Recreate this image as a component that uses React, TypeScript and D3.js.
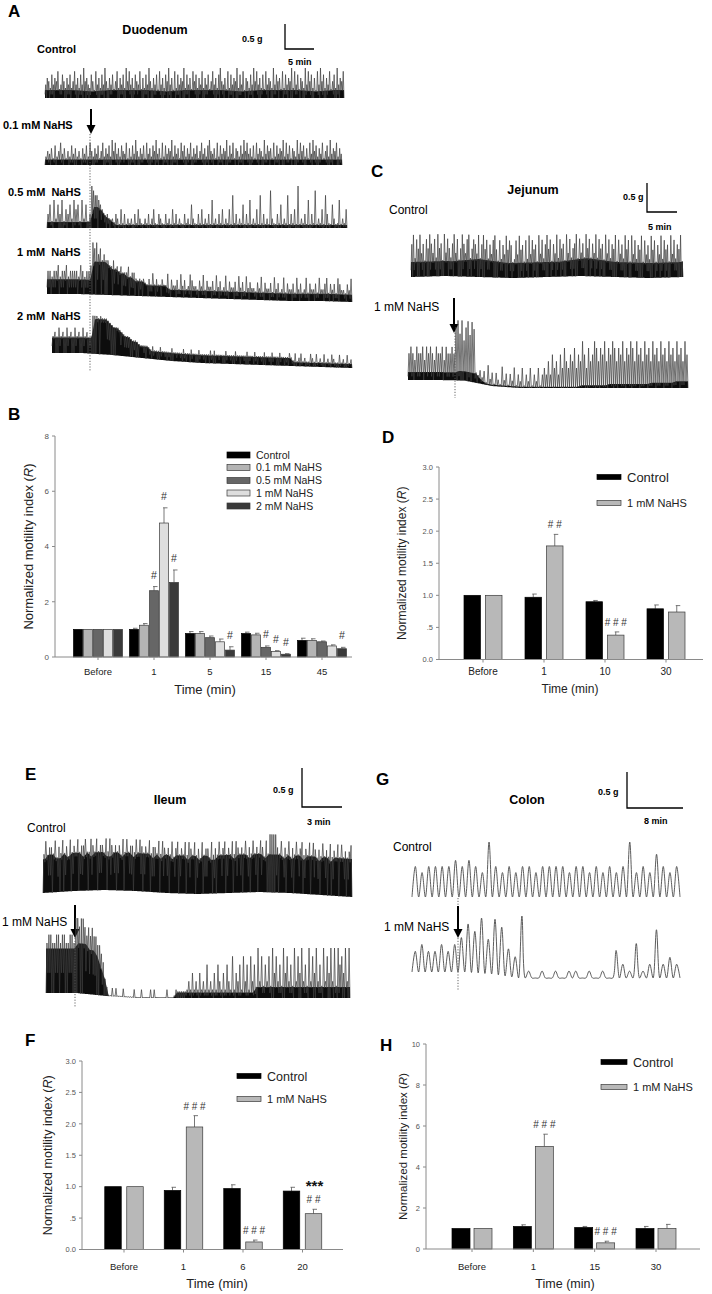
import React from "react";
import * as d3 from "d3";

const FONT = "'Liberation Sans', Arial, Helvetica, sans-serif";

// ---------------- Bar chart data ----------------
// B: Duodenum
const duoCats = ["Before", "1", "5", "15", "45"];
const duoNames = ["Control", "0.1 mM NaHS", "0.5 mM NaHS", "1 mM NaHS", "2 mM NaHS"];
const duoFills = ["#000000", "#b4b4b4", "#666666", "#dedede", "#3a3a3a"];
const duoControl = [1, 1.0, 0.85, 0.85, 0.6];
const duoControlErr = [0, 0.04, 0.07, 0.05, 0.08];
const duo01 = [1, 1.15, 0.85, 0.8, 0.6];
const duo01Err = [0, 0.06, 0.07, 0.06, 0.06];
const duo05 = [1, 2.4, 0.7, 0.35, 0.55];
const duo05Err = [0, 0.15, 0.06, 0.05, 0.03];
const duo1 = [1, 4.85, 0.55, 0.2, 0.4];
const duo1Err = [0, 0.55, 0.1, 0.03, 0.04];
const duo2 = [1, 2.7, 0.25, 0.1, 0.3];
const duo2Err = [0, 0.45, 0.12, 0.02, 0.05];
const duo05Marks = ["", "#", "", "#", ""];
const duo1Marks = ["", "#", "", "#", ""];
const duo2Marks = ["", "#", "#", "#", "#"];
const duoTicks = [0, 2, 4, 6, 8];

// D: Jejunum
const jejCats = ["Before", "1", "10", "30"];
const jejControl = [1, 0.97, 0.9, 0.79];
const jejControlErr = [0, 0.05, 0.02, 0.06];
const jejNahs = [1, 1.77, 0.38, 0.74];
const jejNahsErr = [0, 0.18, 0.05, 0.1];
const jejMarks = ["", "# #", "# # #", ""];
const halfTicks = [0, 0.5, 1, 1.5, 2, 2.5, 3];

// F: Ileum
const ilCats = ["Before", "1", "6", "20"];
const ilControl = [1, 0.94, 0.97, 0.93];
const ilControlErr = [0, 0.05, 0.06, 0.06];
const ilNahs = [1, 1.95, 0.12, 0.57];
const ilNahsErr = [0, 0.18, 0.03, 0.07];
const ilMarks = ["", "# # #", "# # #", "# #"];
const ilStars = ["", "", "", "***"];

// H: Colon
const colCats = ["Before", "1", "15", "30"];
const colControl = [1, 1.1, 1.05, 1.0];
const colControlErr = [0, 0.08, 0.05, 0.1];
const colNahs = [1, 5.0, 0.3, 1.0];
const colNahsErr = [0, 0.6, 0.08, 0.2];
const colMarks = ["", "# # #", "# # #", ""];
const colTicks = [0, 2, 4, 6, 8, 10];

// ---------------- Recording traces (relative spike heights 0-9) ----------------
const duoCtrlTrace = {
  pre:
    "4653746582475364735846374956437528463749536472583647395846375482637495364728463759462837465937462857364" +
    "8364725846379546283746593748265374958463728465394756283746593847265394857362849573648257394658",
  post: "",
  band: "6656665666566656",
  drift: [0, 0, 0],
};
const duo01Trace = {
  pre: "3546273584625374635264738",
  post:
    "5364725836473958463754826374953647284637594628374659374628573648364725846379546283746593748265374958" +
    "463728465394756283746593847265394857362849573648257394658364",
  band: "5555555555",
  drift: [0, 0, 0],
};
const duo05Trace = {
  pre: "3516253604352645162503",
  post:
    "9877654" +
    "2131021320413021203142102130241032103120413021" +
    "0312052103140213061203140214071302150316021407" +
    "1302082103150217031409021306031802140731052016" + "0214",
  band: "222222222222776432" + "11111111111111111111111111111111111111111111111111111111111111",
  drift: [0, 0, 0],
};
const duo1Trace = {
  pre: "4434453445344443543445",
  post:
    "98978676" + "6556454534453443" +
    "2313223142312322413223142312432213241322314231241322314231423221324132231423124132231423124132231422341323143221324",
  band: "444444444444999987766554443333332222222222222222222222222222222222222222222222222",
  drift: [0, 0, 1, 2, 3, 4, 5, 6, 7, 7, 8],
};
const duo2Trace = {
  pre: "45364536453645364534",
  post:
    "99989888776665545444334332" +
    "2102131203121013021213102312031210231302120312103120213012310213021312031201321302312013203121302132103120312",
  band: "44444444444999987765544333222222222222222222222222222222222222221111111111111111",
  drift: [0, 0, 2, 5, 8, 10, 11, 12, 13, 14, 15],
};
const jejCtrlTrace = {
  pre: "79486957386975849673958647958369758946875937968475896384759687348596738495867395847968375948673958467938574968375948673958476938574968395847693857496837594867395847693",
  post: "",
  band: "5565556555",
  drift: [0, -1, 0, 1, 0, -1, 0, 1, 0],
};
const jejNahsTrace = {
  pre: "454354453545435445354454",
  post:
    "8979689798" + "1021203120210312021302130213021302" +
    "324253425364354635475364576465746576465746576475647564756475647564756475",
  band: "66666666666666777777421111111111111111111111111112222222233333333333344444445555",
  drift: [0, 0, 0.5, 6, 8, 8, 8, 8, 8, 8, 8],
};
const ilCtrlTrace = {
  pre:
    "6857768576867586758677856875867758687576" + "7586857768587675867758687576857867586875" +
    "8675867758676857867586875768576857687586" + "9999" + "7685768576857867586875768576867586857678",
  post: "",
  band: "89988989998989998899899899998989989998998998899998999899989999898998999899899999",
  drift: [0, -2, -3, -2, 0, 1, 0, -1, 0, 2, 4],
};
const ilNahsTrace = {
  pre: "677667767766776",
  post:
    "99899" + "87878776654" + "000010100010000010001000010100000010000100000" +
    "121312131214121314213142151324152415241625142516352416352416253624162536241625362616453626",
  band: "88888888999887530000000000000000001111111111111111111112222222222222222222222222",
  drift: [0, 0, 3, 5, 5, 5, 5, 5, 5, 5, 5],
};
const colCtrlWaves = {
  pre: "5455556565495454554555545545454594547545",
  post: "",
  band: "0",
  drift: [0, 0],
};
const colNahsWaves = {
  pre: "3433434",
  post: "576858743910101011010104215127232",
  band: "0",
  drift: [0, 0, 0, 2, 6, 6, 6, 6, 6, 6, 6],
};

// ---------------- Components ----------------
type TraceSpec = { pre: string; post: string; band: string; drift: number[] };

function digits(s: string) {
  return Array.from(s).map((c) => parseInt(c, 10));
}

function Trace(props: {
  spec: TraceSpec; x0: number; xd?: number; x1: number; base: number; ampPx: number; bandPx: number;
  smooth?: boolean; stroke?: string; sw?: number;
}) {
  const { spec, x0, x1, base, ampPx, bandPx, smooth = false, stroke = "#3c3c3c", sw = 0.7 } = props;
  const pre = digits(spec.pre);
  const post = digits(spec.post);
  const xd = post.length ? (props.xd as number) : x1;
  const xPre = d3.scaleLinear().domain([0, pre.length]).range([x0, xd]);
  const xPost = d3.scaleLinear().domain([0, Math.max(1, post.length)]).range([xd, x1]);
  const frac = (x: number) => (x - x0) / (x1 - x0);
  const dr = d3.scaleLinear<number>()
    .domain(spec.drift.map((_, i) => i / (spec.drift.length - 1)))
    .range(spec.drift).clamp(true);
  const bands = digits(spec.band);
  const bs = d3.scaleLinear<number>()
    .domain(bands.map((_, k) => (k + 0.5) / bands.length))
    .range(bands).clamp(true);
  const baseAt = (x: number) => base + dr(frac(x));
  const bandAt = (x: number) => (bs(frac(x)) / 9) * bandPx;
  const amp = d3.scaleLinear().domain([0, 9]).range([0, ampPx]);

  const cells: { a: number; b: number; v: number }[] = [];
  pre.forEach((v, i) => cells.push({ a: xPre(i), b: xPre(i + 1), v }));
  post.forEach((v, i) => cells.push({ a: xPost(i), b: xPost(i + 1), v }));

  const pts: [number, number][] = [];
  cells.forEach((c) => {
    const xa = c.a;
    const xb = (c.a + c.b) / 2;
    if (smooth) {
      pts.push([xa, baseAt(xa)]);
      pts.push([xb, baseAt(xb) - amp(c.v)]);
    } else {
      const lowFrac = ((c.v * 7) % 3) / 2.2;
      pts.push([xa, baseAt(xa) - bandAt(xa) * lowFrac]);
      pts.push([xb, baseAt(xb) - Math.max(amp(c.v), bandAt(xb) + 1)]);
    }
  });
  pts.push([x1, baseAt(x1)]);
  const line = d3.line().curve(smooth ? d3.curveCatmullRom.alpha(0.5) : d3.curveLinear);
  const xsArea = d3.range(0, 301).map((k) => x0 + ((x1 - x0) * k) / 300);
  const area = d3.area<number>().x((x) => x).y0((x) => baseAt(x)).y1((x) => baseAt(x) - bandAt(x));
  return (
    <g>
      {!smooth && bandPx > 0 && <path d={area(xsArea) || ""} fill="#0d0d0d" />}
      <path d={line(pts) || ""} fill="none" stroke={stroke} strokeWidth={sw} strokeLinejoin="round" />
    </g>
  );
}

function Arrow({ x, y1, y2, w = 2 }: { x: number; y1: number; y2: number; w?: number }) {
  return (
    <g>
      <line x1={x} x2={x} y1={y1} y2={y2 - 7} stroke="#000" strokeWidth={w} />
      <path d={`M${x - 4.5},${y2 - 9} L${x + 4.5},${y2 - 9} L${x},${y2} Z`} fill="#000" />
    </g>
  );
}

function Dotted({ x, y1, y2 }: { x: number; y1: number; y2: number }) {
  return <line x1={x} x2={x} y1={y1} y2={y2} stroke="#555" strokeWidth={0.9} strokeDasharray="1.2,1.6" />;
}

type Series = { fill: string; means: number[]; errs: number[]; marks?: string[]; stars?: string[] };

function BarChart(props: {
  cats: string[]; series: Series[]; axisX: number; axisRight: number; y0: number; yTop: number; yMax: number;
  ticks: number[]; fmt: (v: number) => string; c0: number; c1: number; barW: number; pitch: number;
  catY: number; catSize: number; titleX: number; titleY: number; titleSize: number;
  ylabX: number; ylabSize: number; tickSize: number; markSize: number; markGap: number;
}) {
  const p = props;
  const y = d3.scaleLinear().domain([0, p.yMax]).range([p.y0, p.yTop]);
  const x = d3.scalePoint<string>().domain(p.cats).range([p.c0, p.c1]);
  const ns = p.series.length;
  const axisCol = "#8a8a8a";
  return (
    <g fontFamily={FONT}>
      {p.series.map((s, si) =>
        p.cats.map((c, j) => {
          const cx = (x(c) as number) + (si - (ns - 1) / 2) * p.pitch;
          const top = y(s.means[j]);
          const et = y(s.means[j] + s.errs[j]);
          return (
            <g key={`${si}-${j}`}>
              {s.errs[j] > 0 && (
                <g stroke="#555" strokeWidth={0.8}>
                  <line x1={cx} x2={cx} y1={top} y2={et} />
                  <line x1={cx - 1} x2={cx + 3.5} y1={et} y2={et} />
                </g>
              )}
              <rect x={cx - p.barW / 2} y={top} width={p.barW} height={p.y0 - top} fill={s.fill}
                stroke={s.fill === "#000000" ? "#000" : "#3a3a3a"} strokeWidth={0.7} />
              {s.marks && s.marks[j] && (
                <text x={cx} y={et - p.markGap} textAnchor="middle" fontSize={p.markSize} fill="#333">{s.marks[j]}</text>
              )}
              {s.stars && s.stars[j] && (
                <text x={cx + 1} y={et - p.markGap - 12} textAnchor="middle" fontSize={15} fontWeight="bold" fill="#111">{s.stars[j]}</text>
              )}
            </g>
          );
        })
      )}
      <line x1={p.axisX} x2={p.axisX} y1={p.y0} y2={p.yTop} stroke={axisCol} strokeWidth={1} />
      <line x1={p.axisX} x2={p.axisRight} y1={p.y0} y2={p.y0} stroke={axisCol} strokeWidth={1} />
      {p.ticks.map((t) => (
        <g key={t}>
          <line x1={p.axisX - 3} x2={p.axisX} y1={y(t)} y2={y(t)} stroke={axisCol} />
          <text x={p.axisX - 6} y={y(t) + 2.8} textAnchor="end" fontSize={p.tickSize} fill="#555">{p.fmt(t)}</text>
        </g>
      ))}
      {p.cats.map((c) => (
        <g key={c}>
          <line x1={x(c) as number} x2={x(c) as number} y1={p.y0} y2={p.y0 + 3} stroke={axisCol} />
          <text x={x(c) as number} y={p.catY} textAnchor="middle" fontSize={p.catSize} fill="#222">{c}</text>
        </g>
      ))}
      <text x={p.titleX} y={p.titleY} textAnchor="middle" fontSize={p.titleSize} fill="#222">Time (min)</text>
      <text transform={`translate(${p.ylabX},${(p.y0 + p.yTop) / 2}) rotate(-90)`} textAnchor="middle" fontSize={p.ylabSize} fill="#222">
        Normalized motility index (<tspan fontStyle="italic">R</tspan>)
      </text>
    </g>
  );
}

function Legend({ rows, swX, swW, swH, txX }: { rows: { name: string; fill: string; y: number; size: number }[]; swX: number; swW: number; swH: number; txX: number }) {
  return (
    <g fontFamily={FONT}>
      {rows.map((r) => (
        <g key={r.name}>
          <rect x={swX} y={r.y - swH / 2} width={swW} height={swH} fill={r.fill} stroke={r.fill === "#000000" ? "#000" : "#3a3a3a"} strokeWidth={0.7} />
          <text x={txX} y={r.y + r.size * 0.36} fontSize={r.size} fill="#222">{r.name}</text>
        </g>
      ))}
    </g>
  );
}

const halfFmt = (v: number) => (v === 0.5 ? ".5" : v.toFixed(1));
const intFmt = (v: number) => String(v);
const GRAY = "#b8b8b8";

export default function App() {
  const bold = { fontFamily: FONT, fontWeight: "bold" as const };
  const reg = { fontFamily: FONT };
  return (
    <svg width={712} height={1294} style={{ position: "absolute", left: 0, top: 0, background: "#fff" }}>
      <rect width={712} height={1294} fill="#fff" />
      {/* Panel letters */}
      <g {...bold} fontSize={17}>
        <text x={8} y={17}>A</text>
        <text x={8} y={420}>B</text>
        <text x={371} y={177}>C</text>
        <text x={382} y={443}>D</text>
        <text x={25} y={780}>E</text>
        <text x={25} y={1046}>F</text>
        <text x={376} y={785}>G</text>
        <text x={380} y={1051}>H</text>
      </g>

      {/* ---------- A: Duodenum ---------- */}
      <text {...bold} fontSize={12.5} x={155} y={34} textAnchor="middle">Duodenum</text>
      <text {...bold} fontSize={11} x={37} y={53}>Control</text>
      <g {...bold} fontSize={9}>
        <path d="M285,24 L285,49 L314,49" fill="none" stroke="#000" strokeWidth={1.3} />
        <text x={242} y={42}>0.5 g</text>
        <text x={288} y={65}>5 min</text>
      </g>
      <Trace spec={duoCtrlTrace} x0={45} x1={344} base={98} ampPx={30} bandPx={12} />
      <text {...bold} fontSize={11} x={3} y={129}>0.1 mM NaHS</text>
      <Arrow x={91} y1={109} y2={134} />
      <Trace spec={duo01Trace} x0={45} xd={91} x1={342} base={165} ampPx={25} bandPx={10} />
      <text {...bold} fontSize={11} x={8} y={196} style={{ whiteSpace: "pre" }}>0.5 mM  NaHS</text>
      <Trace spec={duo05Trace} x0={47} xd={91} x1={347} base={228} ampPx={42} bandPx={27} />
      <text {...bold} fontSize={11} x={17} y={256} style={{ whiteSpace: "pre" }}>1 mM  NaHS</text>
      <Trace spec={duo1Trace} x0={47} xd={92} x1={352} base={294} ampPx={52} bandPx={33} />
      <text {...bold} fontSize={11} x={17} y={320} style={{ whiteSpace: "pre" }}>2 mM  NaHS</text>
      <Trace spec={duo2Trace} x0={52} xd={92} x1={352} base={353} ampPx={38} bandPx={35} />
      <Dotted x={90} y1={134} y2={372} />

      {/* ---------- C: Jejunum ---------- */}
      <text {...bold} fontSize={12.5} x={533} y={194} textAnchor="middle">Jejunum</text>
      <text {...reg} fontSize={12} x={389} y={214}>Control</text>
      <g {...bold} fontSize={9}>
        <path d="M647,183 L647,212 L677,212" fill="none" stroke="#000" strokeWidth={1.3} />
        <text x={623} y={200}>0.5 g</text>
        <text x={648} y={230}>5 min</text>
      </g>
      <Trace spec={jejCtrlTrace} x0={411} x1={683} base={277} ampPx={42} bandPx={27} />
      <text {...reg} fontSize={12} x={374} y={311}>1 mM NaHS</text>
      <Arrow x={454} y1={298} y2={333} />
      <Trace spec={jejNahsTrace} x0={408} xd={455} x1={688} base={380} ampPx={60} bandPx={12} />
      <Dotted x={455} y1={333} y2={398} />

      {/* ---------- E: Ileum ---------- */}
      <text {...bold} fontSize={12.5} x={170} y={804} textAnchor="middle">Ileum</text>
      <text {...reg} fontSize={12} x={27} y={832}>Control</text>
      <g {...bold} fontSize={9}>
        <path d="M302,768 L302,807 L342,807" fill="none" stroke="#000" strokeWidth={1.3} />
        <text x={273} y={793}>0.5 g</text>
        <text x={307} y={825}>3 min</text>
      </g>
      <Trace spec={ilCtrlTrace} x0={43} x1={352} base={893} ampPx={58} bandPx={38} />
      <text {...reg} fontSize={12} x={2} y={926}>1 mM NaHS</text>
      <Arrow x={75} y1={905} y2={938} />
      <Trace spec={ilNahsTrace} x0={46} xd={75} x1={350} base={993} ampPx={75} bandPx={50} />
      <Dotted x={75} y1={938} y2={1008} />

      {/* ---------- G: Colon ---------- */}
      <text {...bold} fontSize={12.5} x={527} y={804} textAnchor="middle">Colon</text>
      <g {...bold} fontSize={9}>
        <path d="M627,772 L627,808 L683,808" fill="none" stroke="#000" strokeWidth={1.3} />
        <text x={598} y={795}>0.5 g</text>
        <text x={644} y={824}>8 min</text>
      </g>
      <text {...reg} fontSize={12} x={393} y={851}>Control</text>
      <Trace spec={colCtrlWaves} x0={412} x1={680} base={897} ampPx={55} bandPx={0} smooth stroke="#4a4a4a" sw={0.9} />
      <text {...reg} fontSize={12} x={384} y={931}>1 mM NaHS</text>
      <Arrow x={458} y1={906} y2={938} />
      <Trace spec={colNahsWaves} x0={412} xd={458} x1={680} base={972} ampPx={62} bandPx={0} smooth stroke="#4a4a4a" sw={0.9} />
      <Dotted x={458} y1={898} y2={906} />
      <Dotted x={458} y1={938} y2={990} />

      {/* ---------- B ---------- */}
      <BarChart cats={duoCats}
        series={[
          { fill: duoFills[0], means: duoControl, errs: duoControlErr },
          { fill: duoFills[1], means: duo01, errs: duo01Err },
          { fill: duoFills[2], means: duo05, errs: duo05Err, marks: duo05Marks },
          { fill: duoFills[3], means: duo1, errs: duo1Err, marks: duo1Marks },
          { fill: duoFills[4], means: duo2, errs: duo2Err, marks: duo2Marks },
        ]}
        axisX={55} axisRight={352} y0={657} yTop={436} yMax={8} ticks={duoTicks} fmt={intFmt}
        c0={98} c1={322} barW={9} pitch={10} catY={675} catSize={9.5} titleX={205} titleY={694} titleSize={13}
        ylabX={33} ylabSize={13} tickSize={8} markSize={10.5} markGap={8} />
      <Legend swX={227} swW={23} swH={6} txX={256}
        rows={duoNames.map((n, i) => ({ name: n, fill: duoFills[i], y: [455, 467.5, 480.5, 493, 506][i], size: 10.5 }))} />

      {/* ---------- D ---------- */}
      <BarChart cats={jejCats}
        series={[
          { fill: "#000000", means: jejControl, errs: jejControlErr },
          { fill: GRAY, means: jejNahs, errs: jejNahsErr, marks: jejMarks },
        ]}
        axisX={439} axisRight={703} y0={659.5} yTop={467} yMax={3} ticks={halfTicks} fmt={halfFmt}
        c0={483} c1={666} barW={16.5} pitch={21.5} catY={675} catSize={10} titleX={570} titleY={693} titleSize={12}
        ylabX={406} ylabSize={12} tickSize={7.5} markSize={10} markGap={6} />
      <Legend swX={597} swW={24} swH={5} txX={627}
        rows={[{ name: "Control", fill: "#000000", y: 477, size: 13 }, { name: "1 mM NaHS", fill: GRAY, y: 503, size: 11 }]} />

      {/* ---------- F ---------- */}
      <BarChart cats={ilCats}
        series={[
          { fill: "#000000", means: ilControl, errs: ilControlErr },
          { fill: GRAY, means: ilNahs, errs: ilNahsErr, marks: ilMarks, stars: ilStars },
        ]}
        axisX={82} axisRight={343} y0={1249.5} yTop={1061} yMax={3} ticks={halfTicks} fmt={halfFmt}
        c0={124} c1={302.5} barW={16.5} pitch={22} catY={1270} catSize={9.5} titleX={217} titleY={1288} titleSize={13}
        ylabX={52} ylabSize={12.5} tickSize={7.5} markSize={10} markGap={6} />
      <Legend swX={237} swW={24} swH={5} txX={267}
        rows={[{ name: "Control", fill: "#000000", y: 1076, size: 12.5 }, { name: "1 mM NaHS", fill: GRAY, y: 1099, size: 11 }]} />

      {/* ---------- H ---------- */}
      <BarChart cats={colCats}
        series={[
          { fill: "#000000", means: colControl, errs: colControlErr },
          { fill: GRAY, means: colNahs, errs: colNahsErr, marks: colMarks },
        ]}
        axisX={426} axisRight={700} y0={1249} yTop={1044} yMax={10} ticks={colTicks} fmt={intFmt}
        c0={472} c1={656} barW={18} pitch={22} catY={1270} catSize={9.5} titleX={565} titleY={1288} titleSize={12.5}
        ylabX={407} ylabSize={11.5} tickSize={7.5} markSize={10} markGap={6} />
      <Legend swX={601} swW={26} swH={5} txX={633}
        rows={[{ name: "Control", fill: "#000000", y: 1062, size: 12.5 }, { name: "1 mM NaHS", fill: GRAY, y: 1087, size: 11 }]} />
    </svg>
  );
}
